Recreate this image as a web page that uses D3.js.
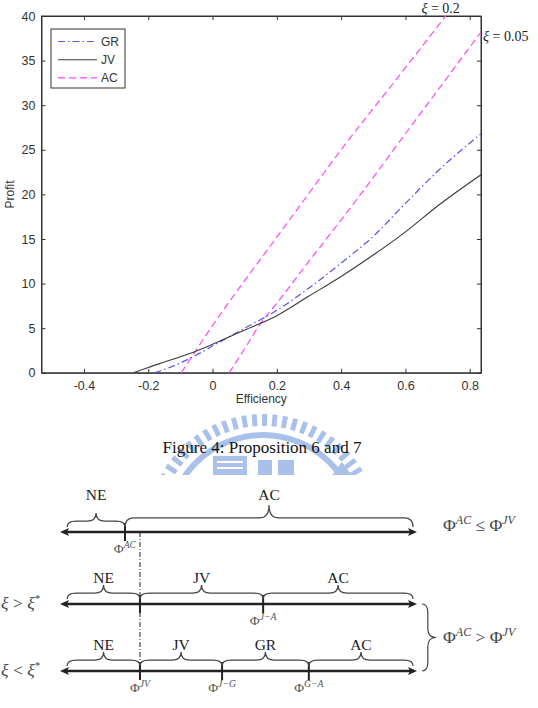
<!DOCTYPE html>
<html>
<head>
<meta charset="utf-8">
<script src="https://cdn.jsdelivr.net/npm/d3@7"></script>
<style>
  body { margin: 0; background: #fff; }
  svg { display: block; }
  .ax text { font-family: "Liberation Sans", Arial, sans-serif; font-size: 12.5px; fill: #333; }
  .ax path, .ax line { stroke: #333; }
  .serif { font-family: "Liberation Serif", "Times New Roman", serif; }
</style>
</head>
<body>
<script>
// ---- data ----
const effTicks = [-0.4, -0.2, 0, 0.2, 0.4, 0.6, 0.8];
const profitTicks = [0, 5, 10, 15, 20, 25, 30, 35, 40];

const jvEff    = [-0.247, -0.2, -0.15, -0.1, -0.05, 0, 0.1, 0.2, 0.3, 0.4, 0.5, 0.6, 0.7, 0.835];
const jvProfit = [0, 0.6, 1.2, 1.8, 2.45, 3.2, 4.8, 6.4, 8.6, 10.8, 13.2, 15.8, 18.7, 22.2];

const grEff    = [-0.18, -0.1, -0.05, 0, 0.1, 0.2, 0.3, 0.4, 0.5, 0.6, 0.7, 0.835];
const grProfit = [0, 1.1, 2.0, 3.0, 5.0, 7.0, 9.5, 12.3, 15.3, 19.0, 22.6, 26.8];

// AC, xi = 0.2
const acHighEff    = [-0.097, -0.05, 0, 0.085, 0.2, 0.4, 0.6, 0.725];
const acHighProfit = [0, 2.6, 5.3, 9.6, 15.2, 25.0, 34.2, 40];
// AC, xi = 0.05
const acLowEff    = [0.052, 0.1, 0.147, 0.2, 0.3, 0.448, 0.6, 0.835];
const acLowProfit = [0, 2.7, 5.4, 7.8, 12.5, 19.4, 26.8, 38.2];

const legendNames = ["GR", "JV", "AC"];

// schematic below: thresholds on a 0..1 axis
const rowKeys = ["le", "gt", "lt"];
const rowSide = ["", "ξ > ξ*", "ξ < ξ*"];
const rowCuts = [[0.182], [0.224, 0.569], [0.224, 0.454, 0.697]];
const rowRegions = [["NE", "AC"], ["NE", "JV", "AC"], ["NE", "JV", "GR", "AC"]];
const rowCutLabels = [["AC"], ["", "J−A"], ["JV", "J−G", "G−A"]];
const braceStart = 0.02, braceEnd = 0.989;

const W = 538, H = 708;
const svg = d3.select("body").append("svg").attr("width", W).attr("height", H);

// ---- watermark (faint emblem behind caption) ----
const wm = svg.append("g").attr("clip-path", "url(#wmclip)").attr("fill", "#a9c1ea").attr("stroke", "none");
svg.append("defs").append("clipPath").attr("id", "wmclip")
  .append("rect").attr("x", 150).attr("y", 405).attr("width", 240).attr("height", 70);
const wcx = 263, wcy = 530;
d3.range(-162, -17, 5.2).forEach(a => {
  const r = a * Math.PI / 180;
  wm.append("line")
    .attr("x1", wcx + 104 * Math.cos(r)).attr("y1", wcy + 104 * Math.sin(r))
    .attr("x2", wcx + 116 * Math.cos(r)).attr("y2", wcy + 116 * Math.sin(r))
    .attr("stroke", "#a9c1ea").attr("stroke-width", 5);
});
wm.append("path").attr("transform", `translate(${wcx},${wcy})`)
  .attr("d", d3.arc().innerRadius(92).outerRadius(98).startAngle(-Math.PI / 2).endAngle(Math.PI / 2)());
wm.append("rect").attr("x", 213).attr("y", 456).attr("width", 34).attr("height", 22);
[461, 467].forEach(yy => wm.append("rect").attr("x", 217).attr("y", yy).attr("width", 26).attr("height", 2).attr("fill", "#fff"));
wm.append("rect").attr("x", 258).attr("y", 460).attr("width", 14).attr("height", 18);
wm.append("rect").attr("x", 278).attr("y", 460).attr("width", 16).attr("height", 18);
wm.append("path").attr("d", "M330,478 L342,462 L354,478 Z");

// ---- line chart ----
const x = d3.scaleLinear().domain([-0.532, 0.835]).range([41.5, 481]);
const y = d3.scaleLinear().domain([0, 40]).range([372.8, 16]);

svg.append("defs").append("clipPath").attr("id", "plotclip")
  .append("rect").attr("x", x.range()[0]).attr("y", y.range()[1])
  .attr("width", x.range()[1] - x.range()[0]).attr("height", y.range()[0] - y.range()[1]);

const fmt = d => String(d);

svg.append("g").attr("class", "ax").attr("transform", `translate(0,${y(0)})`)
  .call(d3.axisBottom(x).tickValues(effTicks).tickFormat(fmt).tickSizeInner(-4).tickSizeOuter(0).tickPadding(8));
svg.append("g").attr("class", "ax").attr("transform", `translate(0,${y(40)})`)
  .call(d3.axisTop(x).tickValues(effTicks).tickFormat("").tickSizeInner(-4).tickSizeOuter(0));
svg.append("g").attr("class", "ax").attr("transform", `translate(${x.range()[0]},0)`)
  .call(d3.axisLeft(y).tickValues(profitTicks).tickFormat(fmt).tickSizeInner(-4).tickSizeOuter(0).tickPadding(6));
svg.append("g").attr("class", "ax").attr("transform", `translate(${x.range()[1]},0)`)
  .call(d3.axisRight(y).tickValues(profitTicks).tickFormat("").tickSizeInner(-4).tickSizeOuter(0));

svg.append("rect")
  .attr("x", x.range()[0]).attr("y", y(40))
  .attr("width", x.range()[1] - x.range()[0]).attr("height", y(0) - y(40))
  .attr("fill", "none").attr("stroke", "#333").attr("stroke-width", 1);

const line = d3.line().x(d => x(d[0])).y(d => y(d[1])).curve(d3.curveMonotoneX);
const zip = (a, b) => a.map((v, i) => [v, b[i]]);

const series = [
  { pts: zip(acHighEff, acHighProfit), color: "#ff44ff", dash: "7,4", w: 1.2 },
  { pts: zip(acLowEff, acLowProfit), color: "#ff44ff", dash: "7,4", w: 1.2 },
  { pts: zip(grEff, grProfit), color: "#5555ee", dash: "7,3,1.5,3", w: 1.2 },
  { pts: zip(jvEff, jvProfit), color: "#3a3a3a", dash: null, w: 1.1 }
];
const plot = svg.append("g").attr("clip-path", "url(#plotclip)");
series.forEach(s => {
  plot.append("path").attr("d", line(s.pts))
    .attr("fill", "none").attr("stroke", s.color).attr("stroke-width", s.w)
    .attr("stroke-dasharray", s.dash);
});

// xi annotations
const xiTop = svg.append("text").attr("class", "serif").attr("font-size", 14).attr("fill", "#222")
  .attr("x", x(acHighEff[acHighEff.length - 1]) - 5).attr("y", y(40) - 3).attr("text-anchor", "middle");
xiTop.append("tspan").attr("font-style", "italic").text("ξ");
xiTop.append("tspan").text(" = 0.2");
const xiRight = svg.append("text").attr("class", "serif").attr("font-size", 14).attr("fill", "#222")
  .attr("x", x.range()[1] + 2).attr("y", y(acLowProfit[acLowProfit.length - 1]) + 9);
xiRight.append("tspan").attr("font-style", "italic").text("ξ");
xiRight.append("tspan").text(" = 0.05");

// axis titles
svg.append("text").attr("x", (x.range()[0] + x.range()[1]) / 2).attr("y", 403)
  .attr("text-anchor", "middle").style("font-family", "Liberation Sans, Arial, sans-serif")
  .style("font-size", "12px").attr("fill", "#333").text("Efficiency");
svg.append("text").attr("transform", `translate(14,${(y(0) + y(40)) / 2}) rotate(-90)`)
  .attr("text-anchor", "middle").style("font-family", "Liberation Sans, Arial, sans-serif")
  .style("font-size", "12px").attr("fill", "#333").text("Profit");

// legend
const lg = svg.append("g").attr("transform", "translate(51,29)");
lg.append("rect").attr("width", 74).attr("height", 59).attr("fill", "#fff").attr("stroke", "#333");
const lgStyle = [series[2], series[3], series[0]];
legendNames.forEach((n, i) => {
  const yy = 12.5 + i * 18.2;
  lg.append("line").attr("x1", 7).attr("x2", 46).attr("y1", yy).attr("y2", yy)
    .attr("stroke", lgStyle[i].color).attr("stroke-width", lgStyle[i].w).attr("stroke-dasharray", lgStyle[i].dash);
  lg.append("text").attr("x", 50).attr("y", yy + 4.3)
    .style("font-family", "Liberation Sans, Arial, sans-serif").style("font-size", "12px").attr("fill", "#333").text(n);
});

// caption
svg.append("text").attr("class", "serif").attr("x", 262).attr("y", 453).attr("text-anchor", "middle")
  .attr("font-size", 17).attr("fill", "#111").text("Figure 4: Proposition 6 and 7");

// ---- schematic ----
const sx = d3.scaleLinear().domain([0, 1]).range([60, 417]);
const sy = d3.scaleOrdinal().domain(rowKeys).range([532, 604, 671]);
const labelGap = [32, 21, 21];

function brace(x0, x1, yb, h) {
  const m = (x0 + x1) / 2, q = Math.min(9, (x1 - x0) / 6), hh = h / 2.4;
  return `M${x0},${yb} Q${x0},${yb - hh} ${x0 + q},${yb - hh} L${m - q},${yb - hh} Q${m},${yb - hh} ${m},${yb - h}` +
         ` Q${m},${yb - hh} ${m + q},${yb - hh} L${x1 - q},${yb - hh} Q${x1},${yb - hh} ${x1},${yb}`;
}

function phiText(g, xx, yy, sup, size, anchor) {
  const t = g.append("text").attr("class", "serif").attr("x", xx).attr("y", yy)
    .attr("font-size", size).attr("fill", "#555").attr("text-anchor", anchor || "middle");
  t.append("tspan").text("Φ");
  t.append("tspan").attr("font-size", size * 0.72).attr("font-style", "italic").attr("dy", -size * 0.38).text(sup);
  return t;
}

const sch = svg.append("g");
// dash-dot guide
sch.append("line").attr("x1", sx(rowCuts[1][0])).attr("x2", sx(rowCuts[1][0]))
  .attr("y1", sy("le")).attr("y2", sy("lt"))
  .attr("stroke", "#222").attr("stroke-width", 1).attr("stroke-dasharray", "5,2,1,2");

rowKeys.forEach((k, r) => {
  const ly = sy(k);
  const g = sch.append("g");
  g.append("line").attr("x1", sx(0) + 6).attr("x2", sx(1) - 6).attr("y1", ly).attr("y2", ly)
    .attr("stroke", "#222").attr("stroke-width", 2.6);
  g.append("path").attr("d", `M${sx(0)},${ly} L${sx(0) + 9},${ly - 4} L${sx(0) + 7},${ly} L${sx(0) + 9},${ly + 4} Z`).attr("fill", "#222");
  g.append("path").attr("d", `M${sx(1)},${ly} L${sx(1) - 9},${ly - 4} L${sx(1) - 7},${ly} L${sx(1) - 9},${ly + 4} Z`).attr("fill", "#222");

  const edges = [braceStart].concat(rowCuts[r], [braceEnd]);
  rowCuts[r].forEach((c, i) => {
    g.append("line").attr("x1", sx(c)).attr("x2", sx(c)).attr("y1", ly - 9).attr("y2", ly + 9)
      .attr("stroke", "#222").attr("stroke-width", 2);
    if (rowCutLabels[r][i]) phiText(g, sx(c), ly + 21, rowCutLabels[r][i], 13.5);
  });
  rowRegions[r].forEach((name, i) => {
    const a = sx(edges[i]), b = sx(edges[i + 1]);
    const h = (b - a) > 200 ? 22 : 14;
    g.append("path").attr("d", brace(a, b, ly - 5, h))
      .attr("fill", "none").attr("stroke", "#444").attr("stroke-width", 1.2);
    g.append("text").attr("class", "serif").attr("x", (a + b) / 2).attr("y", ly - labelGap[r])
      .attr("text-anchor", "middle").attr("font-size", 15.5).attr("fill", "#1a1a2a").text(name);
  });
  if (rowSide[r]) {
    const t = g.append("text").attr("class", "serif").attr("x", 1).attr("y", ly + 5)
      .attr("font-size", 17.5).attr("fill", "#444");
    t.append("tspan").attr("font-style", "italic").text("ξ");
    t.append("tspan").text(rowSide[r].slice(1, 4));
    t.append("tspan").attr("font-style", "italic").text("ξ");
    t.append("tspan").attr("font-size", 11).attr("dy", -7).text("*");
  }
});

// right-hand conditions
function condition(yy, op) {
  const t = svg.append("text").attr("class", "serif").attr("x", 443).attr("y", yy)
    .attr("font-size", 17.5).attr("fill", "#444");
  t.append("tspan").text("Φ");
  t.append("tspan").attr("font-size", 12).attr("font-style", "italic").attr("dy", -7).text("AC");
  t.append("tspan").attr("dy", 7).text(` ${op} Φ`);
  t.append("tspan").attr("font-size", 12).attr("font-style", "italic").attr("dy", -7).text("JV");
}
condition(sy("le") - 1, "≤");

// vertical brace for the two lower rows
const y0b = sy("gt"), y1b = sy("lt"), xb = 422, wb = 14, mb = (y0b + y1b) / 2;
svg.append("path")
  .attr("d", `M${xb},${y0b} Q${xb + wb / 2.4},${y0b} ${xb + wb / 2.4},${y0b + 9} L${xb + wb / 2.4},${mb - 9} Q${xb + wb / 2.4},${mb} ${xb + wb},${mb}` +
             ` Q${xb + wb / 2.4},${mb} ${xb + wb / 2.4},${mb + 9} L${xb + wb / 2.4},${y1b - 9} Q${xb + wb / 2.4},${y1b} ${xb},${y1b}`)
  .attr("fill", "none").attr("stroke", "#444").attr("stroke-width", 1.2);
condition(mb + 5, ">");
</script>
</body>
</html>
